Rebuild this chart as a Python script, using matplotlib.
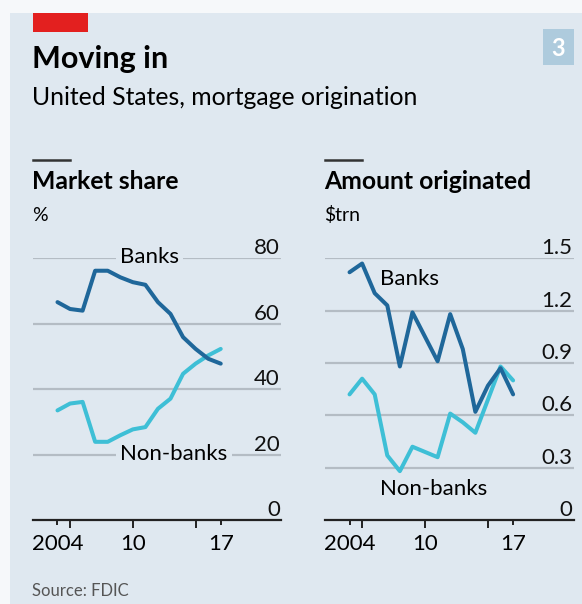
import matplotlib.pyplot as plt
from matplotlib.patches import Rectangle
from matplotlib.transforms import offset_copy

plt.rcParams['font.family'] = ['Lato', 'DejaVu Sans']

years = list(range(2004, 2018))

# market share, %
share_banks = [66.6, 64.5, 64.0, 76.2, 76.2, 74.2, 72.7, 71.9, 66.6, 63.0, 55.9, 52.3, 49.3, 47.8]
share_nonbanks = [33.5, 35.6, 36.1, 23.9, 23.9, 25.9, 27.7, 28.4, 34.0, 37.1, 44.7, 47.8, 50.3, 52.3]

# amount originated, $trn
amt_banks = [1.42, 1.47, 1.30, 1.23, 0.88, 1.19, 1.05, 0.91, 1.18, 0.98, 0.62, 0.77, 0.87, 0.72]
amt_nonbanks = [0.72, 0.81, 0.72, 0.37, 0.28, 0.42, 0.39, 0.36, 0.61, 0.56, 0.50, 0.69, 0.88, 0.80]

share_ticks = [0, 20, 40, 60, 80]
amt_ticks = [0, 0.3, 0.6, 0.9, 1.2, 1.5]
amt_ticklabels = ['0', '0.3', '0.6', '0.9', '1.2', '1.5']

BG = '#dfe8f0'
DARK = '#1f679a'
LIGHT = '#3ebfd6'
GRID = '#b4bcc4'

W, H = 582, 604
fig = plt.figure(figsize=(W / 100, H / 100), dpi=100)
fig.patch.set_facecolor('#f6f8fa')


def fx(x):
    return x / W


def fy(y):
    return 1 - y / H


fig.patches.append(Rectangle((fx(10), 0), 1, fy(12.7), transform=fig.transFigure,
                             facecolor=BG, edgecolor='none', zorder=-2))
fig.patches.append(Rectangle((fx(33), fy(32)), fx(88) - fx(33), fy(13.3) - fy(32),
                             transform=fig.transFigure, facecolor='#e3201f',
                             edgecolor='none', zorder=-1))
fig.patches.append(Rectangle((fx(543), fy(64.5)), fx(573.5) - fx(543), fy(29.5) - fy(64.5),
                             transform=fig.transFigure, facecolor='#aecbdd',
                             edgecolor='none', zorder=-1))
fig.text(fx(558), fy(56), '3', color='white', fontsize=17, fontweight='bold',
         ha='center', va='baseline')

fig.text(fx(32), fy(68), 'Moving in', fontsize=22, fontweight='bold', va='baseline')
fig.text(fx(32), fy(105), 'United States, mortgage origination', fontsize=17.8, va='baseline')
fig.text(fx(32), fy(596), 'Source: FDIC', fontsize=12, color='#555555', va='baseline')


def panel(x0, x1, title, unit, banks, nonbanks, ticks, ticklabels, ymax,
          banks_pos, nonbanks_pos, label_box):
    ax = fig.add_axes([fx(x0), fy(520), fx(x1) - fx(x0), fy(258.3) - fy(520)])
    ax.patch.set_visible(False)
    ax.set_xlim(2002.05, 2021.8)
    ax.set_ylim(0, ymax)
    for s in ['left', 'right', 'top']:
        ax.spines[s].set_visible(False)
    ax.spines['bottom'].set_color('#222222')
    ax.spines['bottom'].set_linewidth(1.6)
    ax.set_yticks([])

    for t, lab in zip(ticks, ticklabels):
        if t > 0:
            ax.axhline(t, color=GRID, lw=1.6, zorder=1)
        tr = offset_copy(ax.get_yaxis_transform(), fig=fig, x=-1, y=4, units='dots')
        ax.text(1.0, t, lab, transform=tr, ha='right', va='baseline', fontsize=16,
                color='#111111')

    ax.plot(years, banks, color=DARK, lw=2.9, zorder=4, solid_joinstyle='round',
            solid_capstyle='round', clip_on=False)
    ax.plot(years, nonbanks, color=LIGHT, lw=2.9, zorder=3, solid_joinstyle='round',
            solid_capstyle='round', clip_on=False)

    box = dict(facecolor=BG, edgecolor='none', pad=3) if label_box else None
    ax.text(*banks_pos, 'Banks', fontsize=16, va='center', ha='left', zorder=2.5,
            bbox=box)
    ax.text(*nonbanks_pos, 'Non-banks', fontsize=16, va='center', ha='left', zorder=2.5,
            bbox=box)

    ax.set_xticks([2005, 2010, 2015])
    ax.set_xticklabels(['', '10', ''])
    ax.set_xticks([2004, 2017], minor=True)
    ax.set_xticklabels(['2004', '17'], minor=True)
    ax.tick_params(axis='x', which='major', length=6, width=1.4, color='#222222',
                   labelsize=16, pad=4)
    ax.tick_params(axis='x', which='minor', length=3.5, width=1.4, color='#222222',
                   labelsize=16, pad=6.5)

    # small rule above the panel heading
    fig.lines.append(plt.Line2D([fx(x0), fx(x0 + 37)], [fy(160), fy(160)],
                                transform=fig.transFigure, color='#333333', lw=1.8))
    fig.text(fx(x0 - 1), fy(189), title, fontsize=17.8, fontweight='bold', va='baseline')
    fig.text(fx(x0 - 1), fy(221), unit, fontsize=14, va='baseline')
    return ax


panel(33, 281, 'Market share', '%', share_banks, share_nonbanks,
      share_ticks, [str(t) for t in share_ticks], 80,
      (2009.0, 80.3), (2009.0, 20.1), True)
panel(325, 573.5, 'Amount originated', '$trn', amt_banks, amt_nonbanks,
      amt_ticks, amt_ticklabels, 1.5,
      (2006.4, 1.382), (2006.4, 0.178), False)

fig.savefig('out.png', dpi=100, facecolor=fig.get_facecolor())
